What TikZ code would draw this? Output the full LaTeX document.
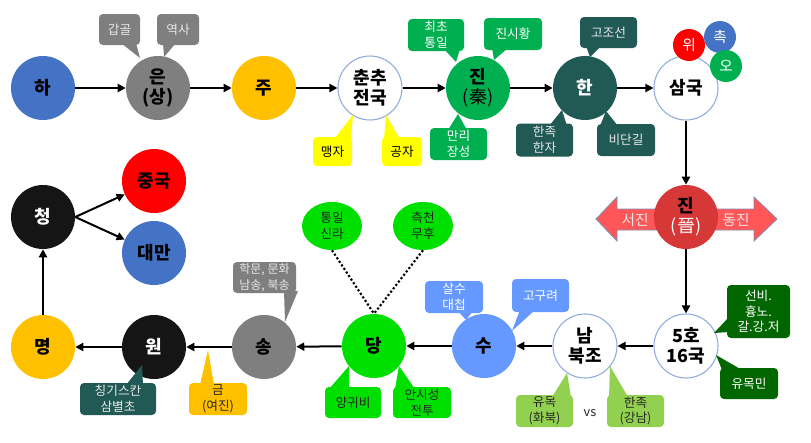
\documentclass[tikz,border=0pt]{standalone}
\usepackage{fontspec}
\setmainfont{Noto Sans CJK KR}
\usetikzlibrary{arrows.meta,shapes.geometric}
\definecolor{cblue}{HTML}{4472C4}
\definecolor{cgray}{HTML}{7F7F7F}
\definecolor{cgold}{HTML}{FFC000}
\definecolor{cgreen}{HTML}{00B050}
\definecolor{cteal}{HTML}{215A54}
\definecolor{cring}{HTML}{8FAADC}
\definecolor{cred}{HTML}{FF0000}
\definecolor{cjin}{HTML}{D63838}
\definecolor{carrow}{HTML}{FF5757}
\definecolor{carrowline}{HTML}{7F8CB8}
\definecolor{cdkgreen}{HTML}{006600}
\definecolor{clime}{HTML}{92D050}
\definecolor{csky}{HTML}{6699FF}
\definecolor{cbright}{HTML}{00E000}
\definecolor{cblack}{HTML}{151515}
\definecolor{cyellow}{HTML}{FFFF00}
\definecolor{clighttext}{HTML}{E8E8E8}
\definecolor{cdarktext}{HTML}{262626}
\begin{document}
\begin{tikzpicture}[x=0.75pt,y=-0.75pt,
  circ/.style={circle, minimum size=48pt, inner sep=0pt, align=center,
    font=\fontsize{13.5}{15}\selectfont\bfseries},
  ring/.style={circ, draw=cring, line width=0.8pt, fill=white},
  smallc/.style={circle, minimum size=24pt, inner sep=0pt, text=white,
    font=\fontsize{11}{12}\selectfont},
  co/.style={rectangle, rounded corners=3pt, inner sep=1pt, align=center,
    font=\fontsize{9.5}{11.8}\selectfont},
  oval/.style={ellipse, inner sep=0pt, minimum width=45pt, minimum height=36pt,
    fill=cbright, align=center, font=\fontsize{9.5}{11.8}\selectfont, text=cdarktext},
  arr/.style={line width=1.5pt, -{Triangle[length=6pt,width=6pt]}},
  dots/.style={line width=1.6pt, dash pattern=on 1.6pt off 1.6pt},
  bigarrow/.style={fill=carrow, draw=carrowline, line width=0.6pt},
  arrtext/.style={text=clighttext, font=\fontsize{11}{12}\selectfont}
]
\useasboundingbox (0,0) rectangle (811,443);

% Jin side arrows (behind circle)
\path[bigarrow] (596,219) -- (617,197) -- (617,209) -- (660,209) -- (660,230) -- (617,230) -- (617,241) -- cycle;
\path[bigarrow] (777,219) -- (754,197) -- (754,209) -- (714,209) -- (714,230) -- (754,230) -- (754,241) -- cycle;
\node[arrtext] (seojin) at (635,220) {서진};
\node[arrtext] (dongjin) at (736,220) {동진};

% main circles
\node[circ, fill=cblue] (ha) at (43,88) {하};
\node[circ, fill=cgray] (eun) at (158,88) {은\\(상)};
\node[circ, fill=cgold] (ju) at (264,88) {주};
\node[ring] (chun) at (370,88) {춘추\\전국};
\node[circ, fill=cgreen] (qin) at (478,88) {진\\{\mdseries (秦)}};
\node[circ, fill=cteal, text=white] (han) at (585,88) {한};
\node[ring] (sam) at (686,88) {삼국};
\node[smallc, fill=cred] (wi) at (689,45) {위};
\node[smallc, fill=cblue] (chok) at (720,37) {촉};
\node[smallc, fill=cgreen] (o) at (726,66) {오};
\node[circ, fill=cjin] (jin) at (686,217) {진\\{\mdseries\color{white}(晉)}};
\node[ring] (oho) at (686,346) {5호\\16국};
\node[ring] (nambuk) at (585,346) {남\\북조};
\node[circ, fill=csky] (su) at (484,346) {수};
\node[circ, fill=cbright] (dang) at (374,346) {당};
\node[circ, fill=cgray] (song) at (264,347) {송};
\node[circ, fill=cblack, text=white] (won) at (154,347) {원};
\node[circ, fill=cgold] (myeong) at (43,347) {명};
\node[circ, fill=cblack, text=white] (cheong) at (43,217) {청};
\node[circ, fill=cred] (china) at (154,181) {중국};
\node[circ, fill=cblue] (taiwan) at (154,253) {대만};

% ellipses for Tang
\node[oval] (tongil) at (332,226) {통일\\신라};
\node[oval] (cheuk) at (423,226) {측천\\무후};
\draw[dots] (tongil.south) -- (dang.north);
\draw[dots] (cheuk.south) -- (dang.north);

% callouts
\node[co, fill=cgray, text=clighttext, minimum width=30.75pt, minimum height=23.25pt] (gapgol) at (119.5,29.5) {갑골};
\fill[cgray] (121,43) -- (140,58) -- (136,43) -- cycle;
\node[co, fill=cgray, text=clighttext, minimum width=31.5pt, minimum height=23.25pt] (yeoksa) at (178,29.5) {역사};
\fill[cgray] (163,43) -- (164,57) -- (176,43) -- cycle;

\node[co, fill=cgreen, text=white, minimum width=42pt, minimum height=24pt] (choecho) at (436,35) {최초\\통일};
\fill[cgreen] (444,49) -- (456,62) -- (460,49) -- cycle;
\node[co, fill=cgreen, text=white, minimum width=43.5pt, minimum height=24pt] (jinsi) at (513,34) {진시황};
\fill[cgreen] (492,48) -- (494,60) -- (508,48) -- cycle;
\node[co, fill=cgreen, text=white, minimum width=42.75pt, minimum height=24pt] (manri) at (458.5,144) {만리\\장성};
\fill[cgreen] (448,130) -- (458,114) -- (467,130) -- cycle;

\node[co, fill=cteal, text=clighttext, minimum width=42.75pt, minimum height=23.25pt] (gojoseon) at (608.5,32.5) {고조선};
\fill[cteal] (586,46) -- (590,57) -- (601,46) -- cycle;
\node[co, fill=cteal, text=clighttext, minimum width=42.75pt, minimum height=24.75pt] (hanjok) at (544.5,140) {한족\\한자};
\fill[cteal] (549,126) -- (562,110) -- (567,126) -- cycle;
\node[co, fill=cteal, text=clighttext, minimum width=43.5pt, minimum height=24pt] (bidan) at (626,140) {비단길};
\fill[cteal] (600,126) -- (606,111) -- (618,126) -- cycle;

\node[co, fill=cyellow, text=black, minimum width=29.25pt, minimum height=21.75pt] (maeng) at (332.5,151.5) {맹자};
\fill[cyellow] (334,139) -- (353,115) -- (351,139) -- cycle;
\node[co, fill=cyellow, text=black, minimum width=30pt, minimum height=21.75pt] (gong) at (402,151.5) {공자};
\fill[cyellow] (384,139) -- (386,115) -- (400,139) -- cycle;

\node[co, fill=cdkgreen, text=white, minimum width=47.25pt, minimum height=39.75pt] (seonbi) at (758.5,311.5) {선비.\\흉노.\\갈.강.저};
\fill[cdkgreen] (729,317) -- (714,333) -- (729,332) -- cycle;
\node[co, fill=cdkgreen, text=white, minimum width=43.5pt, minimum height=23.25pt] (yumokmin) at (749,383.5) {유목민};
\fill[cdkgreen] (722,370) -- (716,355) -- (742,370) -- cycle;

\node[co, fill=clime, text=cdarktext, minimum width=42.75pt, minimum height=24pt] (yumok) at (544.5,411) {유목\\(화북)};
\fill[clime] (552,397) -- (567,373) -- (571,397) -- cycle;
\node[co, fill=clime, text=cdarktext, minimum width=42.75pt, minimum height=24pt] (hanjok2) at (635.5,411) {한족\\(강남)};
\fill[clime] (609,397) -- (610,366) -- (628,397) -- cycle;
\node[font=\fontsize{9.5}{11}\selectfont, text=cdarktext] (vs) at (590,413) {vs};

\node[co, fill=csky, text=white, minimum width=43.5pt, minimum height=24pt] (salsu) at (454,297) {살수\\대첩};
\fill[csky] (458,311) -- (466,320) -- (473,311) -- cycle;
\node[co, fill=csky, text=white, minimum width=42.75pt, minimum height=24.75pt] (goguryeo) at (540.5,295.5) {고구려};
\fill[csky] (520,310) -- (512,331) -- (535,310) -- cycle;

\node[co, fill=cbright, text=cdarktext, minimum width=42pt, minimum height=23.25pt] (yanggwi) at (353,402.5) {양귀비};
\fill[cbright] (329,389) -- (349,366) -- (349,389) -- cycle;
\node[co, fill=cbright, text=cdarktext, minimum width=43.5pt, minimum height=23.25pt] (ansi) at (422,402.5) {안시성\\전투};
\fill[cbright] (395,389) -- (399,366) -- (415,389) -- cycle;

\node[co, fill=cgray, text=clighttext, minimum width=47.25pt, minimum height=23.25pt, font=\fontsize{9}{11.8}\selectfont] (hakmun) at (264.5,277.5) {학문, 문화\\남송, 북송};
\fill[cgray] (284,291) -- (285,322) -- (298,291) -- cycle;

\node[co, fill=cteal, text=clighttext, minimum width=57pt, minimum height=24pt] (genghis) at (118,399) {칭기스칸\\삼별초};
\fill[cteal] (126,385) -- (142,365) -- (143,385) -- cycle;
\node[co, fill=cgold, text=cdarktext, minimum width=43.5pt, minimum height=24pt] (geum) at (218,399) {금\\(여진)};
\fill[cgold] (200,385) -- (208,350) -- (214,385) -- cycle;

% arrows
\draw[arr] (ha) -- (eun);
\draw[arr] (eun) -- (ju);
\draw[arr] (ju) -- (chun);
\draw[arr] (chun) -- (qin);
\draw[arr] (qin) -- (han);
\draw[arr] (han) -- (sam);
\draw[arr] (sam) -- (jin);
\draw[arr] (jin) -- (oho);
\draw[arr] (oho) -- (nambuk);
\draw[arr] (nambuk) -- (su);
\draw[arr] (su) -- (dang);
\draw[arr] (dang) -- (song);
\draw[arr] (song) -- (won);
\draw[arr] (won) -- (myeong);
\draw[arr] (myeong) -- (cheong);
\draw[arr] (cheong.east) -- (china);
\draw[arr] (cheong.east) -- (taiwan);
\end{tikzpicture}
\end{document}
